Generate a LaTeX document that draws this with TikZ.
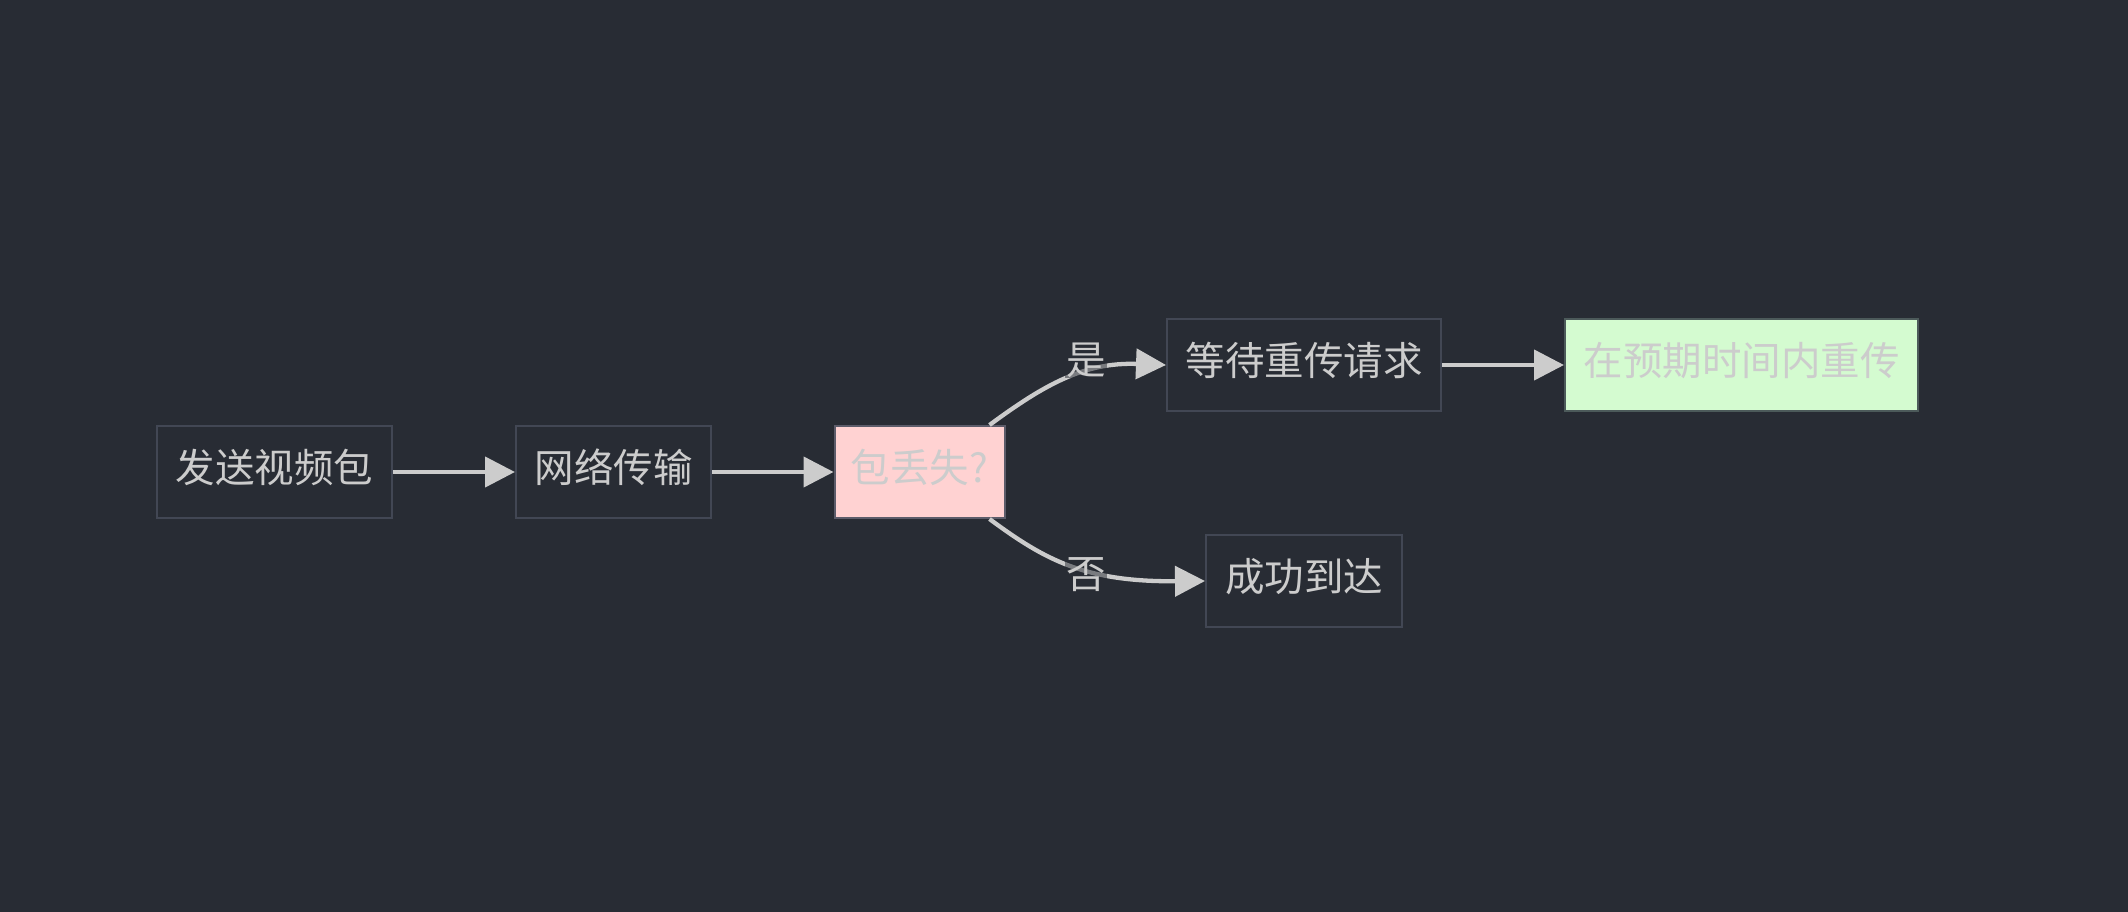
\documentclass[tikz,border=0pt]{standalone}
\usepackage{fontspec}
\setmainfont{Noto Sans CJK SC}
\usetikzlibrary{arrows.meta}
\definecolor{bg}{HTML}{282C34}
\definecolor{bstroke}{HTML}{424754}
\definecolor{txt}{HTML}{CCCCCC}
\definecolor{pinkf}{HTML}{FFD2D2}
\definecolor{greenf}{HTML}{D4FBD0}
\definecolor{pinks}{HTML}{5C5C6A}
\definecolor{greens}{HTML}{4C5A5A}
\tikzset{
  box/.style={draw=bstroke, line width=2pt, fill=bg, text=txt, minimum height=92pt, inner sep=0pt,
    text height=32pt, text depth=12pt, font=\fontsize{39.5}{47}\selectfont},
  pinkbox/.style={box, fill=pinkf, draw=pinks},
  greenbox/.style={box, fill=greenf, draw=greens},
  conn/.style={draw=txt, line width=4.3pt, -{Triangle[length=30pt,width=30pt]}},
  elabel/.style={text=txt, font=\fontsize{39.5}{47}\selectfont, fill=bg, fill opacity=0.5, text opacity=1, inner sep=1pt}
}
\begin{document}
\begin{tikzpicture}[x=1pt,y=-1pt]
\fill[bg] (0,0) rectangle (2128,912);
\useasboundingbox (0,0) rectangle (2128,912);
\node[box, minimum width=235pt] (b1) at (274.5,472) {发送视频包};
\node[box, minimum width=195pt] (b2) at (613.5,472) {网络传输};
\node[pinkbox, minimum width=170pt] (b3) at (919.5,472) {包丢失?};
\node[box, minimum width=274pt] (b4) at (1304,365) {等待重传请求};
\node[greenbox, minimum width=353pt] (b5) at (1741.5,365) {在预期时间内重传};
\node[box, minimum width=196pt] (b6) at (1304,581) {成功到达};
\draw[conn] (b1) -- (b2);
\draw[conn] (b2) -- (b3);
\draw[conn] (b4) -- (b5);
\draw[conn] ([xshift=70pt]b3.north) .. controls (1045,384) and (1085,362) .. (b4.west);
\draw[conn] ([xshift=70pt]b3.south) .. controls (1045,560) and (1085,582) .. (b6.west);
\node[elabel] (l1) at (1086,360) {是};
\node[elabel] (l2) at (1086,575) {否};
\end{tikzpicture}
\end{document}
